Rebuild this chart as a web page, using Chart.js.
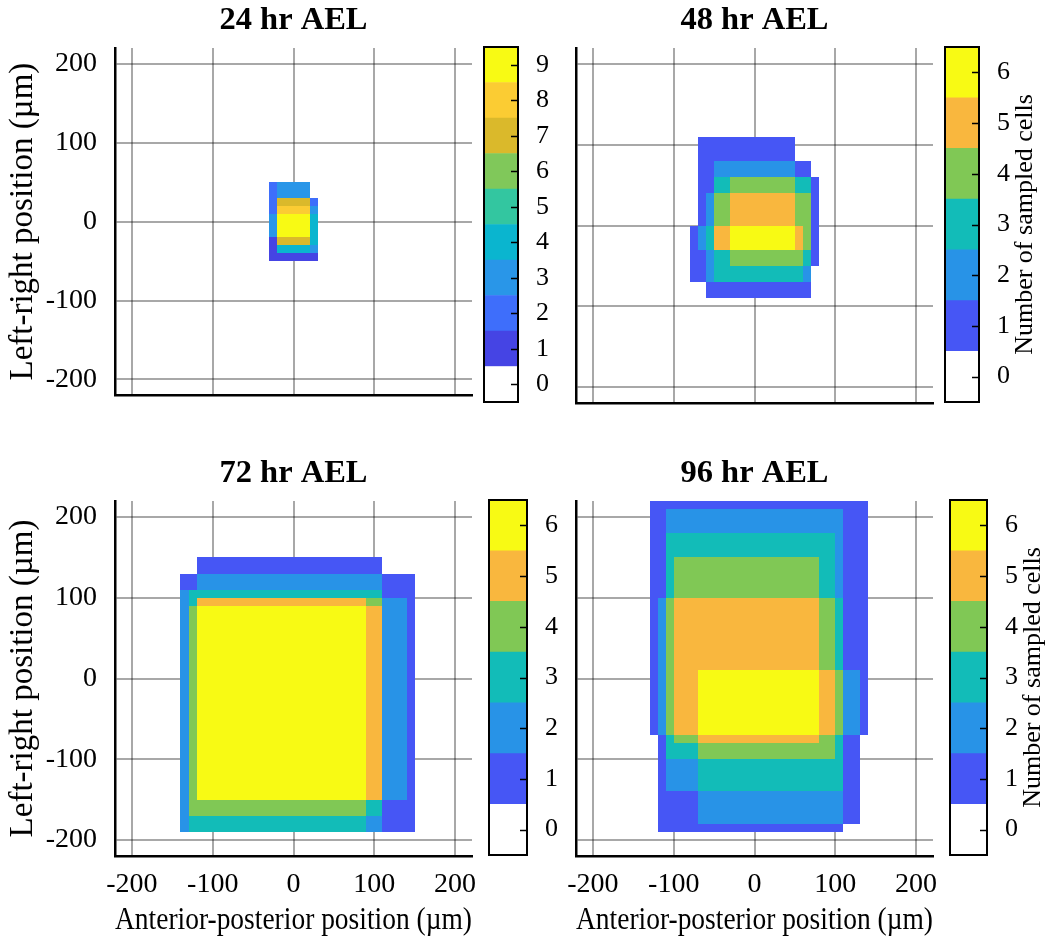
<!DOCTYPE html>
<html><head><meta charset="utf-8">
<script src="https://cdn.jsdelivr.net/npm/chart.js@4.4.1/dist/chart.umd.min.js"></script>
<style>
html,body{margin:0;padding:0;background:#fff}
body{width:1049px;height:940px;position:relative;overflow:hidden}
canvas{position:absolute}
</style></head><body>
<canvas id="h1" width="490" height="430" style="left:0;top:0"></canvas>
<canvas id="c1" width="70" height="430" style="left:480px;top:0"></canvas>
<canvas id="h2" width="490" height="430" style="left:461px;top:0"></canvas>
<canvas id="c2" width="108" height="430" style="left:941px;top:0"></canvas>
<canvas id="h3" width="490" height="487" style="left:0;top:453px"></canvas>
<canvas id="h4" width="490" height="487" style="left:461px;top:453px"></canvas>
<canvas id="c3" width="90" height="487" style="left:485px;top:453px"></canvas>
<canvas id="c4" width="103" height="487" style="left:946px;top:453px"></canvas>
<script>
// ---------- data ----------
const xTicks = [-200, -100, 0, 100, 200];
const yTicks = [-200, -100, 0, 100, 200];
const panelTitles = ['24 hr AEL', '48 hr AEL', '72 hr AEL', '96 hr AEL'];
const xLabel = 'Anterior-posterior position (µm)';
const yLabel = 'Left-right position (µm)';
const cbarLabel = 'Number of sampled cells';

const levels24 = [0, 1, 2, 3, 4, 5, 6, 7, 8, 9];
const colors24 = ['#ffffff', '#4544e4', '#3e6efb', '#2996e8', '#0ab5cf', '#33c6a0', '#80c85a', '#dab92b', '#fbcc33', '#f8fa14'];
const levels6 = [0, 1, 2, 3, 4, 5, 6];
const colors6 = ['#ffffff', '#4656f5', '#2893e7', '#12bcb8', '#80c855', '#f9b73e', '#f8fa14'];

// cells: [x0, x1, y0, y1, count]
const cells24 = [
  [-30, -20, 10, 50, 2], [-20, 20, 30, 50, 3],
  [-20, 20, 20, 30, 7], [20, 30, 20, 30, 2],
  [-20, 20, 10, 20, 8], [20, 30, 10, 20, 3],
  [-30, -20, -20, 10, 3], [-20, 20, -20, 10, 9], [20, 30, -30, 10, 4],
  [-30, -20, -40, -20, 1], [-20, 20, -30, -20, 7],
  [-20, 20, -40, -30, 4], [20, 30, -40, -30, 3],
  [-30, 30, -50, -40, 1]
];
const cells48 = [
  [-70, 50, 80, 110, 1],
  [-70, -50, 60, 80, 1], [-50, 50, 60, 80, 2], [50, 70, 60, 80, 1],
  [-70, -50, 40, 60, 1], [-50, -30, 40, 60, 3], [-30, 50, 40, 60, 4], [50, 70, 40, 60, 3], [70, 80, 40, 60, 1],
  [-70, -60, 0, 40, 1], [-60, -50, 0, 40, 2], [-50, -30, 0, 40, 4], [-30, 50, 0, 40, 5], [50, 70, 0, 40, 4], [70, 80, 0, 40, 1],
  [-80, -70, -30, 0, 1], [-70, -60, -30, 0, 2], [-60, -50, -30, 0, 3], [-50, -30, -30, 0, 5], [-30, 50, -30, 0, 6], [50, 60, -30, 0, 5], [60, 70, -30, 0, 4], [70, 80, -30, 0, 1],
  [-80, -60, -50, -30, 1], [-60, -50, -50, -30, 2], [-50, -30, -50, -30, 3], [-30, 60, -50, -30, 4], [60, 70, -50, -30, 3], [70, 80, -50, -30, 1],
  [-80, -60, -70, -50, 1], [-60, -50, -70, -50, 2], [-50, 60, -70, -50, 3], [60, 70, -70, -50, 2],
  [-60, 70, -90, -70, 1]
];
const cells72 = [
  [-120, 110, 130, 150, 1],
  [-140, -120, 110, 130, 1], [-120, 110, 110, 130, 2], [110, 150, 100, 130, 1],
  [-140, -130, 100, 110, 2], [-130, 110, 100, 110, 3],
  [-140, -130, 90, 100, 2], [-130, -120, 90, 100, 3], [-120, 90, 90, 100, 5], [90, 110, 90, 100, 4],
  [110, 140, -150, 100, 2], [140, 150, -150, 100, 1],
  [-140, -130, -150, 90, 2], [-130, -120, -150, 90, 4], [-120, 90, -150, 90, 6], [90, 110, -150, 90, 5],
  [-140, -130, -170, -150, 2], [-130, 90, -170, -150, 4], [90, 110, -170, -150, 3], [110, 150, -190, -150, 1],
  [-140, -130, -190, -170, 2], [-130, 90, -190, -170, 3], [90, 110, -190, -170, 2]
];
const cells96 = [
  [-130, 140, 210, 220, 1],
  [-130, -110, 180, 210, 1], [-110, 110, 180, 210, 2], [110, 140, 180, 210, 1],
  [-130, -110, 150, 180, 1], [-110, 100, 150, 180, 3], [100, 110, 150, 180, 2], [110, 140, 150, 180, 1],
  [-130, -110, 100, 150, 1], [-110, -100, 100, 150, 3], [-100, 80, 100, 150, 4], [80, 100, 100, 150, 3], [100, 110, 100, 150, 2], [110, 140, 100, 150, 1],
  [-130, -120, 10, 100, 1], [-120, -110, 10, 100, 2], [-110, -100, 10, 100, 4], [-100, 80, 10, 100, 5], [80, 100, 10, 100, 4], [100, 110, 10, 100, 3], [110, 140, 10, 100, 1],
  [-130, -120, -70, 10, 1], [-120, -110, -70, 10, 2], [-110, -100, -70, 10, 4], [-100, -70, -70, 10, 5], [-70, 80, -70, 10, 6], [80, 100, -70, 10, 5], [100, 110, -70, 10, 4], [110, 130, -70, 10, 2], [130, 140, -70, 10, 1],
  [-120, -110, -80, -70, 1], [-110, -100, -80, -70, 3], [-100, -70, -80, -70, 4], [-70, 80, -80, -70, 5], [80, 100, -80, -70, 4], [100, 110, -80, -70, 3], [110, 130, -80, -70, 1],
  [-120, -110, -100, -80, 1], [-110, -70, -100, -80, 3], [-70, 100, -100, -80, 4], [100, 110, -100, -80, 3], [110, 130, -100, -80, 1],
  [-120, -110, -140, -100, 1], [-110, -70, -140, -100, 2], [-70, 110, -140, -100, 3], [110, 130, -140, -100, 1],
  [-120, -70, -180, -140, 1], [-70, 110, -180, -140, 2], [110, 130, -180, -140, 1],
  [-120, 110, -190, -180, 1]
];

// ---------- rendering ----------
const SERIF = "'Liberation Serif', 'Times New Roman', serif";
const GRID = 'rgba(0,0,0,0.34)';

const heatPlugin = {
  id: 'heatcells',
  beforeDatasetsDraw(chart) {
    const {ctx, chartArea: a, scales: {x, y}} = chart;
    const ds = chart.data.datasets[0];
    ctx.save();
    ctx.beginPath();
    ctx.rect(a.left, a.top, a.right - a.left, a.bottom - a.top);
    ctx.clip();
    ds.data.forEach(p => {
      const c = p.cell;
      const px0 = Math.round(x.getPixelForValue(c[0]));
      const px1 = Math.round(x.getPixelForValue(c[1]));
      const py0 = Math.round(y.getPixelForValue(c[3]));
      const py1 = Math.round(y.getPixelForValue(c[2]));
      ctx.fillStyle = ds.levelColors[c[4]];
      ctx.fillRect(px0, py0, px1 - px0, py1 - py0);
    });
    ctx.restore();
  }
};

function heatChart(id, cells, colors, title, showX, showY, xH) {
  new Chart(document.getElementById(id), {
    type: 'scatter',
    data: {
      datasets: [{
        data: cells.map(c => ({x: (c[0] + c[1]) / 2, y: (c[2] + c[3]) / 2, cell: c})),
        levelColors: colors,
        pointRadius: 0, pointHoverRadius: 0, showLine: false
      }]
    },
    options: {
      responsive: false, animation: false, events: [],
      layout: {padding: {left: 0, right: 18, top: 0, bottom: 0}},
      plugins: {
        legend: {display: false}, tooltip: {enabled: false},
        title: {display: true, text: title, fullSize: false, color: '#000',
          font: {family: SERIF, size: 32.5, weight: 'bold', lineHeight: 1.2},
          padding: {top: 1, bottom: 8}}
      },
      scales: {
        x: {
          type: 'linear', min: -221, max: 221, z: 1,
          afterBuildTicks: s => { s.ticks = xTicks.map(v => ({value: v})); },
          afterFit: s => { s.height = xH; },
          grid: {color: GRID, lineWidth: 2, drawTicks: false},
          border: {display: true, color: '#000', width: 2.5},
          ticks: {display: showX, color: '#000', padding: 12, maxRotation: 0,
            font: {family: SERIF, size: 28}, callback: v => String(v)},
          title: {display: showX, text: xLabel, color: '#000',
            font: {family: SERIF, size: 31}, padding: {top: 0, bottom: 1}}
        },
        y: {
          type: 'linear', min: -220, max: 220, z: 1,
          afterBuildTicks: s => { s.ticks = yTicks.map(v => ({value: v})); },
          afterFit: s => { s.width = 115; },
          grid: {color: GRID, lineWidth: 2, drawTicks: false},
          border: {display: true, color: '#000', width: 2.5},
          ticks: {display: showY, color: '#000', padding: 18,
            font: {family: SERIF, size: 28}, callback: v => String(v)},
          title: {display: showY, text: yLabel, color: '#000',
            font: {family: SERIF, size: 33}, padding: {top: 4, bottom: 0}}
        }
      }
    },
    plugins: [heatPlugin]
  });
}

const boxPlugin = {
  id: 'cbarbox',
  afterDraw(chart) {
    const {ctx, chartArea: a, scales: {y}} = chart;
    const o = chart.options.plugins.cbarbox;
    ctx.save();
    ctx.strokeStyle = '#000';
    ctx.lineWidth = 2;
    ctx.strokeRect(a.left, a.top, a.right - a.left, a.bottom - a.top);
    ctx.lineWidth = 1.5;
    y.ticks.forEach(t => {
      const py = Math.round(y.getPixelForValue(t.value)) + 0.5;
      ctx.beginPath();
      ctx.moveTo(a.right, py);
      ctx.lineTo(a.right - 7, py);
      ctx.stroke();
    });
    if (o && o.label) {
      ctx.translate(o.labelX, (a.top + a.bottom) / 2);
      ctx.rotate(-Math.PI / 2);
      ctx.fillStyle = '#000';
      ctx.font = '26px ' + SERIF;
      ctx.textAlign = 'center';
      ctx.textBaseline = 'middle';
      ctx.fillText(o.label, 0, 0);
    }
    ctx.restore();
  }
};

function colorBar(id, levels, colors, axisW, padBottom, label, labelX) {
  new Chart(document.getElementById(id), {
    type: 'bar',
    data: {
      labels: ['count'],
      datasets: levels.map((l, i) => ({
        data: [[l - 0.5, l + 0.5]], backgroundColor: colors[i], borderWidth: 0,
        barPercentage: 1, categoryPercentage: 1, grouped: false
      }))
    },
    options: {
      responsive: false, animation: false, events: [],
      layout: {padding: {left: 4, right: 0, top: 47, bottom: padBottom}},
      plugins: {legend: {display: false}, tooltip: {enabled: false},
        cbarbox: {label: label, labelX: labelX}},
      scales: {
        x: {display: false},
        y: {
          position: 'right', min: -0.5, max: levels.length - 0.5,
          afterBuildTicks: s => { s.ticks = levels.map(v => ({value: v})); },
          afterFit: s => { s.width = axisW; },
          grid: {display: false}, border: {display: false},
          ticks: {color: '#000', padding: 10, font: {family: SERIF, size: 26}, callback: v => String(v)}
        }
      }
    },
    plugins: [boxPlugin]
  });
}

heatChart('h1', cells24, colors24, panelTitles[0], false, true, 27);
heatChart('h2', cells48, colors6, panelTitles[1], false, false, 27);
heatChart('h3', cells72, colors6, panelTitles[2], true, true, 84);
heatChart('h4', cells96, colors6, panelTitles[3], true, false, 84);

colorBar('c1', levels24, colors24, 32, 28, null, 0);
colorBar('c2', levels6, colors6, 70, 28, cbarLabel, 84);
colorBar('c3', levels6, colors6, 48, 85, null, 0);
colorBar('c4', levels6, colors6, 62, 85, cbarLabel, 87);
</script>
</body></html>
